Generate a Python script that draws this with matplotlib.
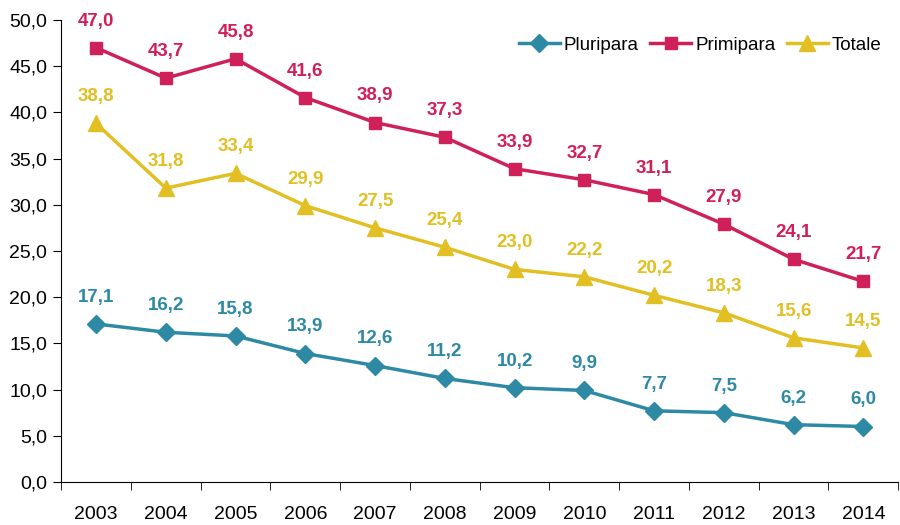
import matplotlib.pyplot as plt
from matplotlib.ticker import FixedLocator, NullFormatter

plt.rcParams['font.family'] = ['Liberation Sans', 'DejaVu Sans']

years = ['2003', '2004', '2005', '2006', '2007', '2008', '2009', '2010', '2011', '2012', '2013', '2014']
pluripara = [17.1, 16.2, 15.8, 13.9, 12.6, 11.2, 10.2, 9.9, 7.7, 7.5, 6.2, 6.0]
primipara = [47.0, 43.7, 45.8, 41.6, 38.9, 37.3, 33.9, 32.7, 31.1, 27.9, 24.1, 21.7]
totale = [38.8, 31.8, 33.4, 29.9, 27.5, 25.4, 23.0, 22.2, 20.2, 18.3, 15.6, 14.5]

c_plu = '#2E89A5'
c_pri = '#CF2059'
c_tot = '#E2BF22'

fig = plt.figure(figsize=(9, 5.25), dpi=100)
ax = fig.add_axes([0.068, 0.082, 0.93, 0.88])

x = range(len(years))
series = [
    (pluripara, c_plu, 'D', 9, 'Pluripara'),
    (primipara, c_pri, 's', 9, 'Primipara'),
    (totale, c_tot, '^', 11, 'Totale'),
]
for vals, col, mk, ms, name in series:
    ax.plot(x, vals, color=col, marker=mk, markersize=ms, linewidth=2.5, label=name)
    for i, v in zip(x, vals):
        ax.annotate(('%.1f' % v).replace('.', ','), (i, v), xytext=(0, 13),
                    textcoords='offset points', ha='center', va='bottom',
                    color=col, fontsize=13.5, fontweight='bold')

ax.set_xlim(-0.5, len(years) - 0.5)
ax.set_ylim(0, 50)
ax.set_yticks([i * 5 for i in range(11)])
ax.set_yticklabels([('%.1f' % (i * 5)).replace('.', ',') for i in range(11)])
ax.set_xticks(list(x))
ax.set_xticklabels(years)
ax.xaxis.set_minor_locator(FixedLocator([i - 0.5 for i in range(len(years) + 1)]))
ax.xaxis.set_minor_formatter(NullFormatter())
ax.tick_params(axis='x', which='major', length=0, pad=17, labelsize=14)
ax.tick_params(axis='x', which='minor', length=6, direction='out')
ax.tick_params(axis='y', length=6, direction='out', labelsize=14, pad=4)

for s in ['top', 'right']:
    ax.spines[s].set_visible(False)

ax.legend(loc='upper right', bbox_to_anchor=(1.0, 1.0), ncol=3, frameon=False,
          fontsize=13.5, handlelength=2.2, handletextpad=0.2, columnspacing=0.6)

fig.savefig('out.png', dpi=100)
